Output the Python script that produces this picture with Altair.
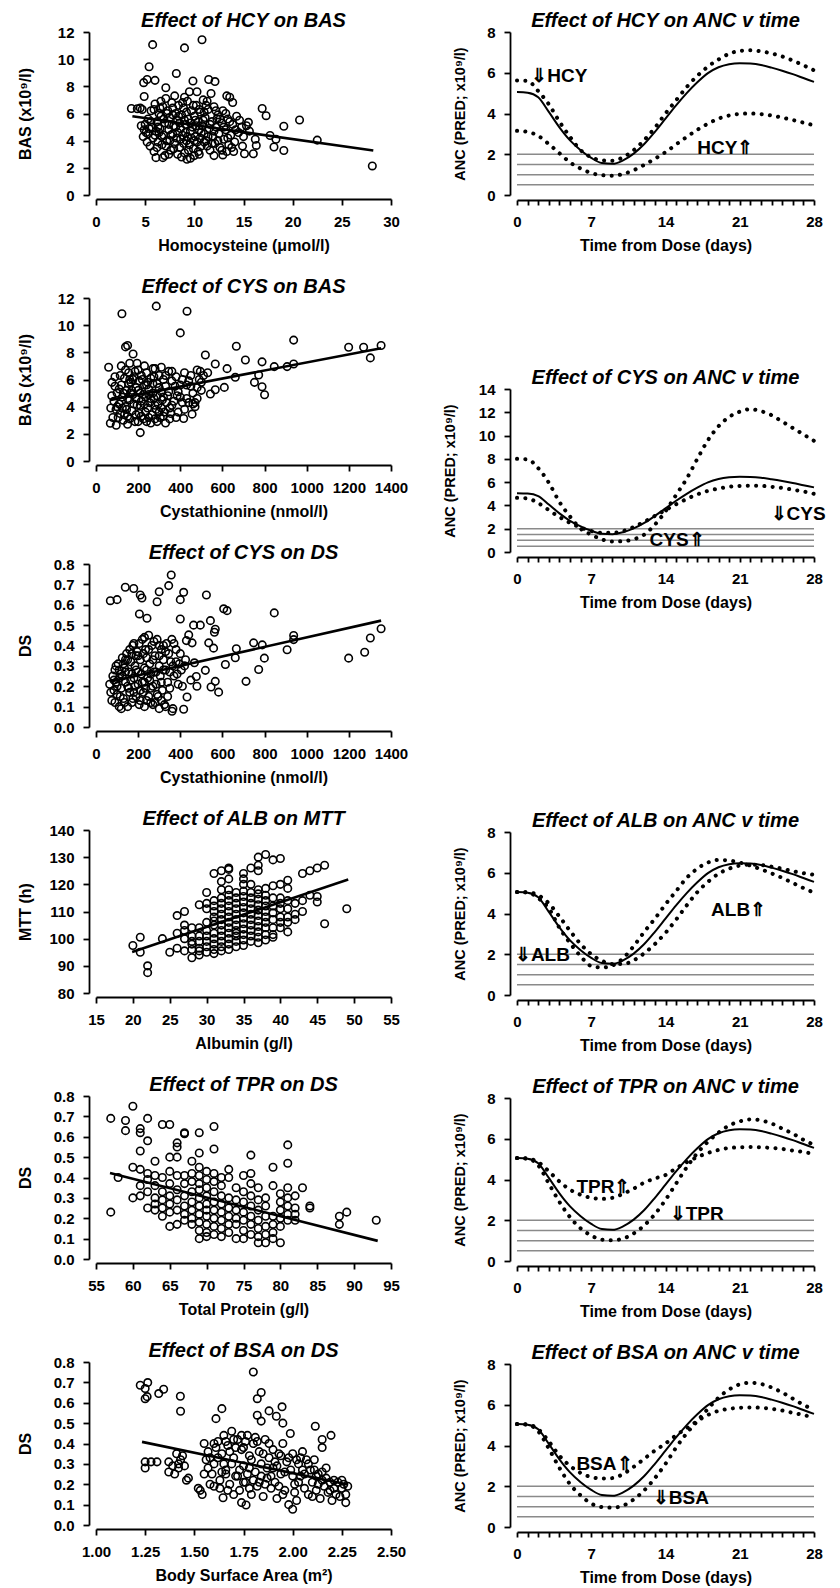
import altair as alt
import pandas as pd

FONT = "Liberation Sans"

# ---------------- scatter panels: values ----------------
hcy_bas = [
    (3.6, 6.37), (4.2, 6.35), (4.7, 6.3), (4.5, 6.4), (4.9, 7.25), (4.85, 8.27), (5.2, 8.5), (6.0, 8.44), (5.4, 9.44), (5.76, 11.07),
    (9.0, 10.83), (10.78, 11.43), (8.17, 8.95), (9.86, 8.39), (11.46, 8.5), (12.1, 8.35), (7.1, 7.9), (10.27, 7.6), (11.7, 7.47), (13.3, 7.3),
    (13.6, 7.2), (9.0, 7.2), (13.9, 6.81), (16.9, 6.37), (17.3, 5.84), (20.7, 5.52), (19.1, 5.06), (22.5, 4.04), (28.1, 2.14), (19.1, 3.28),
    (17.7, 4.38), (18.1, 3.53), (18.3, 4.1), (16.0, 3.04), (15.1, 3.04), (16.3, 3.65), (15.5, 5.35), (15.3, 5.1), (16.2, 4.1), (6.1, 2.75),
    (7.0, 2.9), (6.8, 2.75), (8.7, 2.8), (9.25, 2.63), (9.6, 2.7), (10.5, 3.0), (12.0, 2.9), (13.3, 3.2), (14.0, 3.2), (11.3, 3.6),
    (4.8, 4.3), (4.9, 4.8), (5.0, 5.2), (5.1, 4.6), (5.3, 5.6), (5.5, 3.6), (5.6, 6.2), (5.7, 5.0), (5.8, 4.2), (6.0, 6.7),
    (6.1, 4.7), (6.2, 5.4), (6.3, 3.9), (6.4, 6.0), (6.5, 4.9), (6.6, 5.8), (6.7, 3.7), (6.8, 6.5), (6.9, 4.4), (7.0, 5.3),
    (7.1, 7.1), (7.2, 4.0), (7.3, 6.2), (7.4, 4.8), (7.5, 5.7), (7.6, 3.3), (7.7, 6.8), (7.8, 4.5), (7.9, 5.1), (8.0, 3.8),
    (8.1, 6.0), (8.2, 4.2), (8.3, 5.5), (8.4, 6.6), (8.5, 3.5), (8.6, 4.9), (8.7, 5.9), (8.8, 4.4), (8.9, 6.4), (9.0, 3.1),
    (9.1, 5.2), (9.2, 4.0), (9.3, 6.9), (9.4, 5.6), (9.5, 3.7), (9.6, 4.7), (9.7, 6.2), (9.8, 5.0), (9.9, 3.4), (10.0, 5.8),
    (10.1, 4.3), (10.2, 6.6), (10.3, 3.9), (10.4, 5.4), (10.5, 4.8), (10.6, 6.1), (10.7, 3.6), (10.8, 5.1), (10.9, 7.0), (11.0, 4.5),
    (11.1, 5.7), (11.2, 4.0), (11.4, 6.3), (11.5, 4.9), (11.6, 3.3), (11.8, 5.4), (11.9, 4.3), (12.0, 6.5), (12.1, 3.8), (12.2, 5.0),
    (12.4, 5.9), (12.5, 4.5), (12.6, 3.5), (12.8, 5.3), (12.9, 6.2), (13.0, 4.1), (13.2, 4.8), (13.4, 5.6), (13.5, 3.7), (13.7, 4.4),
    (13.9, 5.2), (14.1, 3.9), (14.3, 5.8), (14.5, 4.6), (14.8, 5.0), (14.9, 3.6), (8.0, 7.3), (7.4, 3.0), (10.0, 2.9), (12.9, 2.95),
    (5.9, 3.2), (6.4, 4.6), (11.3, 6.9), (9.5, 7.6), (7.8, 5.9), (9.0, 5.5), (10.6, 4.2), (8.3, 4.6), (12.3, 5.6), (6.6, 6.9),
    (5.2, 3.9), (5.4, 4.9), (5.6, 5.4), (5.9, 6.3), (6.2, 3.5), (6.3, 5.0), (6.5, 6.4), (6.7, 4.3), (6.9, 5.6), (7.1, 3.6),
    (7.2, 6.0), (7.4, 5.2), (7.6, 4.4), (7.8, 6.4), (7.9, 3.4), (8.1, 5.0), (8.3, 3.0), (8.4, 5.8), (8.6, 4.1), (8.8, 6.8),
    (8.9, 3.8), (9.1, 4.6), (9.2, 6.1), (9.4, 3.3), (9.6, 5.3), (9.7, 4.2), (9.9, 6.6), (10.0, 4.0), (10.2, 5.1), (10.4, 3.2),
    (10.5, 6.3), (10.7, 4.6), (10.9, 5.5), (11.0, 3.9), (11.2, 6.6), (11.4, 4.3), (11.6, 5.2), (11.8, 3.8), (12.0, 4.7), (12.2, 6.2),
    (12.4, 4.0), (12.6, 5.6), (12.8, 3.3), (13.0, 5.0), (13.2, 6.0), (13.4, 4.2), (13.6, 5.4), (13.8, 3.5), (14.2, 4.8), (14.6, 5.5),
    (15.0, 4.3), (15.6, 4.7), (7.5, 4.0), (8.5, 5.3), (9.3, 4.3), (10.1, 5.5), (11.0, 6.1), (6.0, 4.4), (5.3, 4.5), (4.6, 5.1),
]

cys_bas = [
    (123, 10.84), (286, 11.4), (432, 11.03), (400, 9.43), (140, 8.4), (150, 8.5), (176, 7.88), (160, 7.2), (195, 7.2), (519, 7.8),
    (666, 8.45), (709, 7.44), (788, 7.3), (938, 8.9), (938, 7.14), (907, 6.95), (846, 6.95), (752, 5.79), (772, 6.33), (788, 5.47),
    (800, 4.88), (1199, 8.37), (1270, 8.37), (1302, 7.59), (1353, 8.5), (661, 6.16), (609, 5.42), (566, 5.25), (543, 4.93), (622, 6.8),
    (566, 7.14), (530, 6.5), (500, 5.8), (480, 6.7), (470, 4.3), (456, 3.45), (416, 3.13), (380, 3.2), (350, 3.1), (290, 2.9),
    (240, 2.9), (210, 2.09), (96, 2.63), (68, 2.78), (60, 6.9), (70, 3.9), (76, 5.79),
    (85, 4.4), (95, 3.8), (100, 5.0), (110, 4.2), (115, 3.5), (120, 5.6), (125, 4.7), (130, 3.0), (135, 6.1), (140, 4.0),
    (145, 5.2), (150, 3.3), (155, 6.5), (160, 4.5), (165, 5.8), (170, 3.7), (175, 4.9), (180, 6.2), (185, 2.9), (190, 5.4),
    (195, 4.1), (200, 6.7), (205, 3.5), (210, 5.0), (215, 4.4), (220, 6.0), (225, 3.1), (230, 5.6), (235, 4.7), (240, 6.5),
    (245, 3.9), (250, 5.3), (255, 4.3), (260, 6.1), (265, 3.4), (270, 5.0), (275, 4.6), (280, 6.8), (285, 3.8), (290, 5.7),
    (295, 4.2), (300, 6.3), (305, 3.2), (310, 5.1), (315, 4.5), (320, 6.0), (325, 3.6), (330, 5.5), (340, 4.8), (345, 6.6),
    (350, 3.9), (360, 5.9), (370, 4.4), (380, 6.2), (390, 5.1), (400, 4.7), (410, 6.0), (420, 3.8), (430, 5.6), (440, 4.3),
    (450, 6.3), (460, 5.0), (470, 4.0), (480, 5.4), (490, 6.0), (500, 5.2), (510, 6.3), (90, 6.2), (105, 3.2), (150, 2.7),
    (200, 2.9), (260, 2.8), (330, 2.8), (120, 7.0), (230, 7.0), (270, 6.8), (310, 6.9), (170, 5.2), (250, 4.9), (205, 5.9),
    (110, 5.3), (355, 3.5), (430, 4.6), (460, 4.2), (145, 3.8), (215, 3.3), (280, 4.1), (335, 4.3), (390, 3.6), (240, 5.6),
    (160, 6.0), (440, 5.9), (360, 6.6), (300, 3.6), (190, 4.6),
    (75, 4.8), (80, 3.2), (90, 5.5), (100, 4.0), (115, 6.3), (125, 3.9), (130, 5.0), (135, 3.4), (140, 6.7), (150, 4.6),
    (160, 3.1), (165, 5.0), (175, 6.0), (180, 4.2), (190, 3.4), (200, 5.2), (210, 4.1), (215, 6.3), (225, 4.9), (235, 3.6),
    (245, 5.8), (250, 3.2), (260, 4.6), (270, 5.7), (280, 3.1), (290, 4.8), (300, 5.4), (310, 3.9), (320, 4.7), (330, 6.3),
    (345, 5.1), (360, 4.1), (375, 5.5), (385, 4.8), (400, 5.6), (410, 4.3), (420, 6.5), (450, 5.5), (480, 4.6), (495, 6.6),
    (155, 5.7), (230, 4.2), (275, 6.2), (320, 3.3), (185, 6.6),
]

cys_ds = [
    (68, 0.62), (100, 0.625), (139, 0.686), (179, 0.68), (210, 0.648), (218, 0.633), (206, 0.555), (242, 0.534), (300, 0.664), (290, 0.615),
    (345, 0.694), (357, 0.746), (416, 0.661), (400, 0.625), (400, 0.53), (524, 0.648), (606, 0.58), (622, 0.571), (846, 0.56), (463, 0.5),
    (495, 0.5), (543, 0.522), (535, 0.413), (566, 0.48), (562, 0.465), (440, 0.452), (456, 0.413), (429, 0.424), (558, 0.387), (666, 0.384),
    (661, 0.34), (748, 0.413), (789, 0.403), (799, 0.338), (772, 0.282), (712, 0.224), (614, 0.307), (566, 0.224), (582, 0.171), (546, 0.196),
    (519, 0.278), (467, 0.315), (476, 0.248), (479, 0.2), (432, 0.147), (416, 0.087), (361, 0.077), (365, 0.09), (907, 0.379), (938, 0.449),
    (938, 0.429), (1199, 0.338), (1275, 0.367), (1302, 0.437), (1353, 0.482),
    (65, 0.21), (75, 0.13), (80, 0.25), (85, 0.18), (90, 0.28), (95, 0.22), (100, 0.16), (105, 0.31), (110, 0.10), (115, 0.26),
    (120, 0.19), (125, 0.34), (130, 0.14), (135, 0.29), (140, 0.22), (145, 0.36), (150, 0.10), (155, 0.27), (160, 0.17), (165, 0.32),
    (170, 0.12), (175, 0.40), (180, 0.24), (185, 0.30), (190, 0.15), (195, 0.37), (200, 0.21), (205, 0.11), (210, 0.33), (215, 0.26),
    (220, 0.43), (225, 0.17), (230, 0.29), (235, 0.38), (240, 0.13), (245, 0.24), (250, 0.45), (255, 0.31), (260, 0.19), (265, 0.40),
    (270, 0.11), (275, 0.27), (280, 0.35), (285, 0.21), (290, 0.43), (295, 0.15), (300, 0.30), (305, 0.25), (310, 0.38), (315, 0.18),
    (320, 0.33), (325, 0.11), (330, 0.28), (335, 0.41), (340, 0.22), (345, 0.36), (350, 0.19), (360, 0.43), (365, 0.30), (370, 0.25),
    (380, 0.38), (390, 0.21), (395, 0.31), (405, 0.28), (420, 0.30), (150, 0.20), (200, 0.35), (250, 0.15), (300, 0.09), (180, 0.41),
    (120, 0.09), (230, 0.44), (270, 0.20), (320, 0.40), (90, 0.12), (140, 0.33), (210, 0.18), (260, 0.26), (330, 0.10), (165, 0.23),
    (110, 0.24), (190, 0.28), (240, 0.34), (280, 0.12), (350, 0.27), (450, 0.23), (380, 0.32), (170, 0.36), (230, 0.22), (300, 0.40),
    (70, 0.17), (85, 0.23), (95, 0.30), (100, 0.20), (110, 0.28), (115, 0.15), (125, 0.25), (130, 0.31), (135, 0.12), (140, 0.27),
    (150, 0.33), (155, 0.19), (160, 0.38), (170, 0.26), (175, 0.14), (185, 0.20), (190, 0.35), (200, 0.27), (205, 0.41), (210, 0.13),
    (220, 0.22), (225, 0.36), (235, 0.19), (240, 0.28), (250, 0.38), (255, 0.23), (260, 0.12), (270, 0.33), (275, 0.42), (285, 0.27),
    (290, 0.16), (300, 0.35), (310, 0.22), (320, 0.28), (330, 0.37), (340, 0.15), (355, 0.32), (370, 0.41), (385, 0.26), (400, 0.36),
    (410, 0.20), (425, 0.33), (180, 0.17), (230, 0.10), (310, 0.13),
]

# albumin and total protein are recorded as whole g/l: {x: [y, ...]}
alb_mtt_cols = {
    20: [97.5], 21: [100.5, 95.0], 22: [90.0, 87.5], 24: [100.0], 25: [95.0],
    26: [96.5, 102.0, 108.5], 27: [100.0, 103.0, 105.0, 110.0, 95.5],
    28: [93.0, 96.0, 98.0, 101.0, 104.0, 99.0],
    29: [94.0, 96.5, 99.0, 101.0, 104.0, 112.5, 95.5],
    30: [95.0, 97.0, 99.0, 101.0, 103.0, 106.0, 113.0, 117.0, 111.0],
    31: [94.5, 96.0, 98.0, 100.0, 102.0, 105.0, 108.0, 110.0, 112.0, 114.0, 124.0, 106.5],
    32: [95.5, 97.0, 99.0, 101.0, 103.0, 105.0, 107.0, 109.0, 111.0, 113.0, 115.0, 118.0, 121.0, 125.0],
    33: [96.0, 98.0, 100.0, 102.0, 104.0, 106.0, 108.0, 110.0, 112.0, 114.0, 116.0, 118.0, 122.0, 126.0, 125.5],
    34: [97.0, 99.0, 101.0, 103.0, 105.0, 107.0, 109.0, 111.0, 113.0, 115.0, 117.0, 102.0],
    35: [97.5, 99.5, 101.5, 103.5, 105.5, 107.5, 109.5, 111.5, 113.5, 115.5, 117.5, 120.0, 122.0, 124.0],
    36: [99.0, 101.0, 103.0, 105.0, 107.0, 109.0, 111.0, 113.0, 115.0, 117.0, 120.0, 126.0],
    37: [98.5, 100.5, 102.5, 104.5, 106.5, 108.5, 110.5, 112.5, 114.5, 116.5, 118.0, 125.0, 127.0, 130.0],
    38: [99.5, 101.5, 104.0, 106.0, 108.0, 110.0, 112.0, 114.0, 116.0, 118.5, 131.0],
    39: [100.5, 101.5, 104.0, 107.0, 109.5, 112.0, 115.0, 119.5, 129.0],
    40: [104.0, 106.0, 108.0, 111.0, 113.0, 115.0, 120.0, 129.5],
    41: [102.5, 106.0, 108.0, 111.0, 114.0, 118.5, 121.5],
    42: [107.0, 109.0, 113.0], 43: [110.0, 114.0, 124.0], 44: [116.0, 125.0],
    45: [113.5, 115.5, 126.0], 46: [105.5, 127.0], 49: [111.0],
}

tpr_ds_cols = {
    57: [0.69, 0.23], 58: [0.40], 59: [0.68, 0.63], 60: [0.75, 0.45, 0.30],
    61: [0.64, 0.62, 0.53, 0.44, 0.36, 0.31], 62: [0.69, 0.58, 0.42, 0.39, 0.33, 0.25],
    63: [0.48, 0.41, 0.36, 0.30, 0.27, 0.24], 64: [0.66, 0.40, 0.33, 0.29, 0.25, 0.21],
    65: [0.66, 0.50, 0.43, 0.37, 0.31, 0.27, 0.23, 0.16], 66: [0.57, 0.55, 0.50, 0.41, 0.34, 0.29, 0.24, 0.17],
    67: [0.62, 0.615, 0.41, 0.37, 0.31, 0.26, 0.22, 0.19], 68: [0.48, 0.42, 0.38, 0.33, 0.28, 0.24, 0.20, 0.17],
    69: [0.62, 0.52, 0.45, 0.41, 0.37, 0.34, 0.30, 0.26, 0.22, 0.18, 0.14, 0.10],
    70: [0.43, 0.39, 0.35, 0.31, 0.27, 0.24, 0.21, 0.17, 0.13, 0.11],
    71: [0.65, 0.54, 0.42, 0.38, 0.33, 0.28, 0.24, 0.20, 0.16, 0.12],
    72: [0.40, 0.36, 0.31, 0.27, 0.23, 0.19, 0.15, 0.11], 73: [0.44, 0.40, 0.30, 0.25, 0.21, 0.17, 0.13],
    74: [0.35, 0.29, 0.24, 0.20, 0.17, 0.10], 75: [0.41, 0.33, 0.28, 0.23, 0.19, 0.14, 0.10],
    76: [0.51, 0.42, 0.37, 0.31, 0.26, 0.21, 0.17, 0.12], 77: [0.35, 0.29, 0.24, 0.19, 0.15, 0.11, 0.08],
    78: [0.30, 0.26, 0.21, 0.16, 0.12, 0.08], 79: [0.45, 0.36, 0.21, 0.17, 0.13, 0.10],
    80: [0.32, 0.28, 0.24, 0.20, 0.16, 0.08], 81: [0.56, 0.47, 0.35, 0.30, 0.26, 0.22, 0.19],
    82: [0.31, 0.25, 0.22, 0.19], 83: [0.35], 84: [0.26, 0.25], 88: [0.21, 0.17], 89: [0.23], 93: [0.19],
}

bsa_ds = [
    (1.225, 0.686), (1.263, 0.699), (1.25, 0.67), (1.25, 0.62), (1.26, 0.63), (1.319, 0.645), (1.344, 0.666), (1.429, 0.632), (1.43, 0.558), (1.80, 0.751),
    (1.84, 0.65), (1.82, 0.62), (1.82, 0.539), (1.84, 0.51), (1.88, 0.56), (1.917, 0.534), (1.946, 0.58), (1.95, 0.50), (1.64, 0.571), (1.61, 0.522),
    (2.115, 0.485), (2.195, 0.44), (2.15, 0.42), (2.15, 0.38), (1.988, 0.449), (2.27, 0.11), (2.27, 0.15), (2.28, 0.19), (2.25, 0.22), (2.0, 0.077),
    (1.763, 0.098), (1.74, 0.11), (1.646, 0.134),
    (1.25, 0.28), (1.25, 0.31), (1.28, 0.31), (1.31, 0.31), (1.37, 0.26), (1.37, 0.31), (1.40, 0.25), (1.41, 0.35), (1.42, 0.28), (1.43, 0.32),
    (1.44, 0.34), (1.45, 0.29), (1.46, 0.22), (1.47, 0.23), (1.42, 0.30), (1.39, 0.29),
    (1.52, 0.18), (1.53, 0.17), (1.54, 0.15), (1.55, 0.40), (1.56, 0.32), (1.57, 0.28), (1.58, 0.20), (1.59, 0.25), (1.60, 0.30), (1.61, 0.38),
    (1.62, 0.41), (1.63, 0.22), (1.64, 0.35), (1.65, 0.44), (1.66, 0.27), (1.67, 0.39), (1.68, 0.20), (1.69, 0.46), (1.70, 0.33), (1.71, 0.24),
    (1.72, 0.42), (1.73, 0.17), (1.74, 0.37), (1.75, 0.29), (1.76, 0.21), (1.77, 0.44), (1.78, 0.34), (1.79, 0.15), (1.80, 0.40), (1.81, 0.26),
    (1.82, 0.19), (1.83, 0.36), (1.84, 0.30), (1.85, 0.14), (1.86, 0.42), (1.87, 0.23), (1.88, 0.33), (1.89, 0.18), (1.90, 0.28), (1.91, 0.21),
    (1.92, 0.13), (1.93, 0.35), (1.94, 0.25), (1.95, 0.40), (1.96, 0.17), (1.97, 0.31), (1.98, 0.10), (1.99, 0.27), (2.00, 0.35), (2.01, 0.20),
    (2.02, 0.12), (2.03, 0.30), (2.04, 0.24), (2.05, 0.36), (2.06, 0.18), (2.07, 0.32), (2.08, 0.15), (2.09, 0.27), (2.10, 0.21), (2.11, 0.32),
    (2.12, 0.17), (2.13, 0.25), (2.14, 0.13), (2.15, 0.22), (2.16, 0.19), (2.17, 0.28), (2.18, 0.16), (2.19, 0.21), (2.20, 0.12), (2.21, 0.18),
    (2.22, 0.15), (2.23, 0.21), (2.25, 0.18), (1.60, 0.40), (1.65, 0.30), (1.70, 0.42), (1.75, 0.38), (1.78, 0.18), (1.82, 0.41), (1.86, 0.20),
    (1.90, 0.37), (1.72, 0.24), (1.68, 0.36), (1.80, 0.22), (1.95, 0.15), (2.05, 0.27), (1.63, 0.18), (1.74, 0.44), (1.84, 0.24), (1.92, 0.29),
    (2.02, 0.32), (1.58, 0.33), (1.66, 0.25), (2.12, 0.24),
    (1.55, 0.25), (1.57, 0.36), (1.60, 0.19), (1.62, 0.33), (1.64, 0.26), (1.66, 0.41), (1.67, 0.17), (1.69, 0.30), (1.71, 0.38), (1.73, 0.27),
    (1.75, 0.21), (1.76, 0.41), (1.77, 0.25), (1.79, 0.32), (1.81, 0.43), (1.83, 0.21), (1.85, 0.35), (1.87, 0.28), (1.89, 0.24), (1.91, 0.31),
    (1.93, 0.19), (1.96, 0.26), (1.98, 0.33), (2.00, 0.24), (2.01, 0.16), (2.03, 0.21), (2.04, 0.33), (2.06, 0.25), (2.08, 0.30), (2.10, 0.14),
    (2.11, 0.27), (2.13, 0.20), (2.15, 0.26), (2.17, 0.23), (2.19, 0.17), (2.21, 0.22), (2.24, 0.14), (2.26, 0.20), (1.70, 0.15), (1.78, 0.28),
    (1.88, 0.40), (1.94, 0.34),
]

# fitted lines (end points)
hcy_bas_fit = [(3.7, 5.8), (28.2, 3.27)]
cys_bas_fit = [(70, 4.5), (1353, 8.3)]
cys_ds_fit = [(70, 0.223), (1353, 0.522)]
alb_mtt_fit = [(19.9, 95.1), (49.2, 121.8)]
tpr_ds_fit = [(56.9, 0.422), (93.2, 0.089)]
bsa_ds_fit = [(1.234, 0.408), (2.28, 0.199)]

# ---------------- ANC v time panels ----------------
days = list(range(29))
anc_typical = [5.05, 5.02, 4.8, 4.08, 3.32, 2.68, 2.2, 1.82, 1.57, 1.53, 1.7, 2.03, 2.5, 3.1, 3.75, 4.4, 5.0, 5.53,
               5.98, 6.27, 6.42, 6.47, 6.45, 6.38, 6.25, 6.1, 5.93, 5.74, 5.55]
hcy_low = [5.62, 5.6, 5.1, 4.45, 3.6, 2.85, 2.2, 1.85, 1.7, 1.68, 1.85, 2.2, 2.7, 3.3, 4.0, 4.65, 5.3, 5.85, 6.3,
           6.65, 6.93, 7.07, 7.1, 7.05, 6.95, 6.8, 6.6, 6.37, 6.12]
hcy_high = [3.15, 3.1, 2.9, 2.5, 2.05, 1.6, 1.3, 1.08, 0.97, 0.95, 1.03, 1.22, 1.48, 1.78, 2.1, 2.48, 2.85, 3.2, 3.5,
            3.75, 3.9, 3.98, 4.0, 3.97, 3.9, 3.8, 3.68, 3.55, 3.42]
cys_low = [8.0, 7.95, 7.2, 5.95, 4.3, 3.05, 2.0, 1.5, 1.08, 0.9, 0.93, 1.1, 1.5, 2.35, 3.5, 4.9, 6.3, 8.0, 9.6,
           10.8, 11.6, 12.05, 12.27, 12.1, 11.75, 11.2, 10.65, 10.1, 9.55]
cys_high = [4.65, 4.6, 4.2, 3.6, 3.0, 2.5, 2.1, 1.8, 1.65, 1.65, 1.8, 2.15, 2.6, 3.1, 3.6, 4.1, 4.55, 4.95, 5.25,
            5.45, 5.6, 5.68, 5.7, 5.68, 5.6, 5.5, 5.35, 5.2, 5.0]
alb_low = [5.05, 5.03, 4.75, 4.25, 3.3, 2.55, 1.9, 1.42, 1.35, 1.45, 1.8, 2.4, 3.1, 3.75, 4.45, 5.1, 5.75, 6.2, 6.5,
           6.63, 6.6, 6.5, 6.35, 6.17, 5.97, 5.75, 5.5, 5.25, 5.02]
alb_high = [5.05, 5.04, 4.9, 4.5, 3.85, 3.15, 2.5, 2.0, 1.68, 1.52, 1.52, 1.7, 2.05, 2.5, 3.05, 3.7, 4.4, 5.05, 5.55,
            5.95, 6.2, 6.35, 6.4, 6.38, 6.3, 6.2, 6.08, 5.98, 5.9]
tpr_high = [5.05, 5.03, 4.85, 4.4, 3.9, 3.5, 3.25, 3.1, 3.05, 3.1, 3.3, 3.55, 3.85, 4.05, 4.22, 4.55, 4.85, 5.1, 5.3,
            5.45, 5.55, 5.58, 5.6, 5.58, 5.55, 5.5, 5.42, 5.35, 5.25]
tpr_low = [5.05, 5.02, 4.7, 3.8, 2.9, 2.15, 1.6, 1.25, 1.05, 1.02, 1.1, 1.35, 1.75, 2.3, 3.0, 3.8, 4.6, 5.3, 5.85,
           6.3, 6.65, 6.85, 6.95, 6.9, 6.75, 6.5, 6.25, 5.95, 5.7]
bsa_high = [5.05, 5.03, 4.8, 4.2, 3.5, 3.0, 2.65, 2.45, 2.38, 2.4, 2.6, 2.95, 3.35, 3.75, 4.1, 4.5, 4.85, 5.2, 5.5,
            5.7, 5.8, 5.85, 5.87, 5.85, 5.8, 5.72, 5.6, 5.5, 5.35]
bsa_low = [5.05, 5.02, 4.7, 3.85, 2.9, 2.1, 1.55, 1.15, 0.98, 0.95, 1.05, 1.35, 1.8, 2.4, 3.1, 3.9, 4.6, 5.2, 5.8,
           6.35, 6.75, 7.0, 7.08, 7.02, 6.85, 6.6, 6.3, 6.0, 5.75]
grade_levels = [0.5, 1.0, 1.5, 2.0]

hcy_labels = [("\u21d3HCY", 1.35, 5.85), ("HCY\u21d1", 17.0, 2.3)]
cys_labels = [("\u21d3CYS", 23.9, 3.3), ("CYS\u21d1", 12.5, 1.0)]
alb_labels = [("\u21d3ALB", -0.2, 1.97), ("ALB\u21d1", 18.3, 4.15)]
tpr_labels = [("TPR\u21d1", 5.6, 3.65), ("\u21d3TPR", 14.4, 2.33)]
bsa_labels = [("BSA\u21d1", 5.6, 3.08), ("\u21d3BSA", 12.8, 1.44)]

# ---------------- layout constants ----------------
LW, RW, PH = 295, 297, 163
VSP = 24
HSP = 33
SP1, SP2 = 67, 153

AXC = dict(domainColor="black", domainWidth=1.8, tickColor="black", tickWidth=1.8,
           labelColor="black", titleColor="black", grid=False, labelFlush=False, labelOverlap=False)


def title_params(text):
    return alt.TitleParams(text=text, frame="group", anchor="middle", offset=-6, fontSize=20, font=FONT,
                           fontStyle="italic", fontWeight="bold", color="black")


def cols_to_pts(cols):
    return [(x, y) for x, ys in cols.items() for y in ys]


def scatter_panel(title, pts, fit, xdom, xvals, xtitle, ydom, yvals, ytitle, xfmt="d", yfmt="d"):
    df = pd.DataFrame(pts, columns=["x", "y"])
    fdf = pd.DataFrame(fit, columns=["x", "y"])
    xenc = alt.X("x:Q", scale=alt.Scale(domain=xdom, nice=False, zero=False),
                 axis=alt.Axis(title=xtitle, values=xvals, format=xfmt, offset=4, tickSize=6,
                               labelPadding=9, titlePadding=8, **AXC))
    yenc = alt.Y("y:Q", scale=alt.Scale(domain=ydom, nice=False, zero=False),
                 axis=alt.Axis(title=ytitle, values=yvals, format=yfmt, offset=7, tickSize=6,
                               labelPadding=9, titleX=-56, **AXC))
    pts_layer = alt.Chart(df).mark_point(shape="circle", filled=False, size=56, strokeWidth=1.6,
                                         color="black", opacity=1).encode(x=xenc, y=yenc)
    fit_layer = alt.Chart(fdf).mark_line(color="black", strokeWidth=2.6).encode(x=xenc, y=yenc)
    return alt.layer(pts_layer, fit_layer).properties(width=LW, height=PH, title=title_params(title))


def anc_panel(title, curve_a, curve_b, labels, ymax, ystep, title_x=-43):
    xenc = alt.X("x:Q", scale=alt.Scale(domain=[0, 28], nice=False, zero=False),
                 axis=alt.Axis(title="Time from Dose (days)", values=days, offset=5, tickSize=5,
                               labelExpr="datum.value % 7 === 0 ? datum.label : ''",
                               labelPadding=9, titlePadding=8, **AXC))
    yenc = alt.Y("y:Q", scale=alt.Scale(domain=[0, ymax], nice=False, zero=False),
                 axis=alt.Axis(title="ANC (PRED; x10\u2079/l)", values=list(range(0, ymax + 1, ystep)),
                               offset=7, tickSize=6, labelPadding=9, titleX=title_x, titleFontSize=14.5, **AXC))
    rdf = pd.DataFrame({"x": [0] * len(grade_levels), "x2": [28] * len(grade_levels), "y": grade_levels})
    rules = alt.Chart(rdf).mark_rule(color="#8a8a8a", strokeWidth=1.5).encode(x=xenc, x2="x2:Q", y=yenc)
    sdf = pd.DataFrame({"x": days, "y": anc_typical})
    solid = alt.Chart(sdf).mark_line(color="black", strokeWidth=2.0, interpolate="monotone").encode(x=xenc, y=yenc)
    layers = [rules, solid]
    for c in (curve_a, curve_b):
        cdf = pd.DataFrame({"x": days, "y": c})
        layers.append(alt.Chart(cdf).mark_line(color="black", strokeWidth=4, strokeCap="round",
                                               strokeDash=[0.1, 8.2], interpolate="monotone").encode(x=xenc, y=yenc))
    ldf = pd.DataFrame(labels, columns=["t", "x", "y"])
    layers.append(alt.Chart(ldf).mark_text(font=FONT, fontSize=19, fontWeight="bold", align="left",
                                           baseline="middle", color="black").encode(x=xenc, y=yenc, text="t:N"))
    return alt.layer(*layers).properties(width=RW, height=PH, title=title_params(title))


def spacer(h):
    return alt.Chart(pd.DataFrame({"x": [0]})).mark_point(opacity=0, size=1).encode(
        x=alt.value(0), y=alt.value(h / 2)).properties(width=RW, height=h)


left = alt.vconcat(
    scatter_panel("Effect of HCY on BAS", hcy_bas, hcy_bas_fit, [0, 30], list(range(0, 31, 5)),
                  "Homocysteine (\u03bcmol/l)", [0, 12], list(range(0, 13, 2)), "BAS (x10\u2079/l)"),
    scatter_panel("Effect of CYS on BAS", cys_bas, cys_bas_fit, [0, 1400], list(range(0, 1401, 200)),
                  "Cystathionine (nmol/l)", [0, 12], list(range(0, 13, 2)), "BAS (x10\u2079/l)"),
    scatter_panel("Effect of CYS on DS", cys_ds, cys_ds_fit, [0, 1400], list(range(0, 1401, 200)),
                  "Cystathionine (nmol/l)", [0, 0.8], [i / 10 for i in range(9)], "DS", yfmt=".1f"),
    scatter_panel("Effect of ALB on MTT", cols_to_pts(alb_mtt_cols), alb_mtt_fit, [15, 55], list(range(15, 56, 5)),
                  "Albumin (g/l)", [80, 140], list(range(80, 141, 10)), "MTT (h)"),
    scatter_panel("Effect of TPR on DS", cols_to_pts(tpr_ds_cols), tpr_ds_fit, [55, 95], list(range(55, 96, 5)),
                  "Total Protein (g/l)", [0, 0.8], [i / 10 for i in range(9)], "DS", yfmt=".1f"),
    scatter_panel("Effect of BSA on DS", bsa_ds, bsa_ds_fit, [1.0, 2.5], [1.0, 1.25, 1.5, 1.75, 2.0, 2.25, 2.5],
                  "Body Surface Area (m\u00b2)", [0, 0.8], [i / 10 for i in range(9)], "DS", xfmt=".2f", yfmt=".1f"),
    spacing=VSP,
)

right = alt.vconcat(
    anc_panel("Effect of HCY on ANC v time", hcy_low, hcy_high, hcy_labels, 8, 2),
    spacer(SP1),
    anc_panel("Effect of CYS on ANC v time", cys_low, cys_high, cys_labels, 14, 2, title_x=-53),
    spacer(SP2),
    anc_panel("Effect of ALB on ANC v time", alb_low, alb_high, alb_labels, 8, 2),
    anc_panel("Effect of TPR on ANC v time", tpr_high, tpr_low, tpr_labels, 8, 2),
    anc_panel("Effect of BSA on ANC v time", bsa_high, bsa_low, bsa_labels, 8, 2),
    spacing=VSP,
)

chart = alt.hconcat(left, right, spacing=HSP).properties(
    padding={"left": 17, "top": 11, "right": 2, "bottom": 2},
    background="white",
).configure_axis(
    labelFont=FONT, labelFontSize=15, labelFontWeight="bold",
    titleFont=FONT, titleFontSize=16, titleFontWeight="bold",
).configure_view(stroke=None)

chart.save("out.html", embed_options={"renderer": "svg", "actions": False})
